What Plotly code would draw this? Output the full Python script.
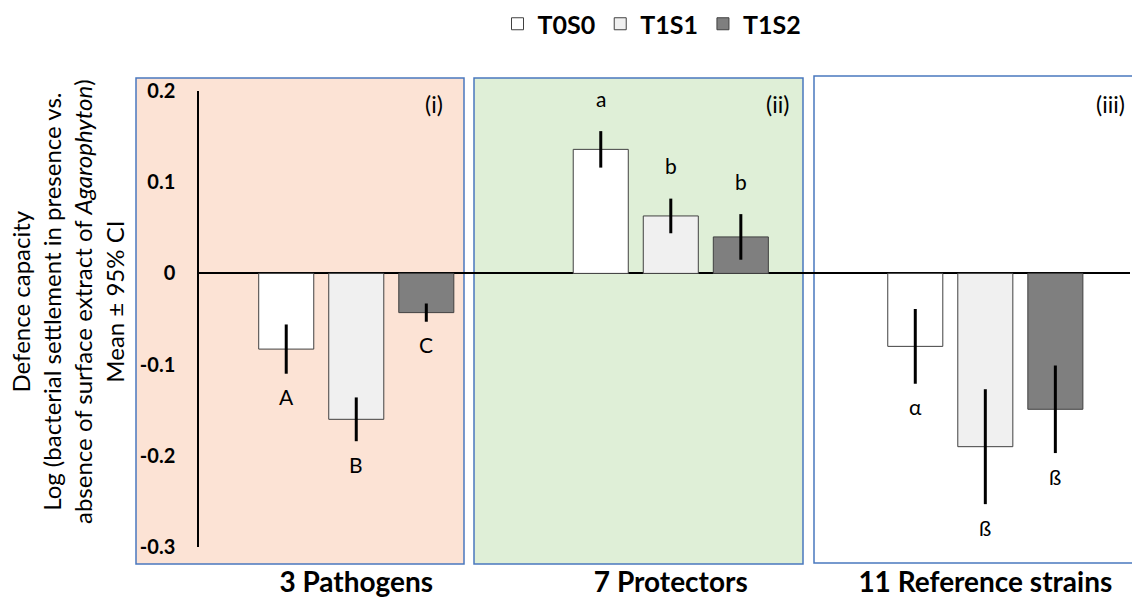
import plotly.graph_objects as go

# ---- data ----
groups = ["3 Pathogens", "7 Protectors", "11 Reference strains"]
treatments = ["T0S0", "T1S1", "T1S2"]
mean_T0S0 = [-0.083, 0.136, -0.080]
mean_T1S1 = [-0.160, 0.063, -0.190]
mean_T1S2 = [-0.043, 0.040, -0.149]
ci_T0S0 = [0.027, 0.020, 0.041]
ci_T1S1 = [0.024, 0.019, 0.063]
ci_T1S2 = [0.010, 0.025, 0.048]
letters_T0S0 = ["A", "a", "α"]
letters_T1S1 = ["B", "b", "ß"]
letters_T1S2 = ["C", "b", "ß"]
panel_labels = ["(i)", "(ii)", "(iii)"]
y_ticks = [-0.3, -0.2, -0.1, 0, 0.1, 0.2]
y_tick_text = ["-0.3", "-0.2", "-0.1", "0", "0.1", "0.2"]

means = [mean_T0S0, mean_T1S1, mean_T1S2]
cis = [ci_T0S0, ci_T1S1, ci_T1S2]
letters = [letters_T0S0, letters_T1S1, letters_T1S2]
colors = ["#FFFFFF", "#F0F0F0", "#7F7F7F"]

FONT = "Lato"
W, H = 1132, 599
L, R, T, B = 199, 2, 91, 52
PW, PH = W - L - R, H - T - B
BARGAP = 0.332
BARGROUPGAP = 0.214


def px(x):
    return (x - L) / PW


def py(y):
    return (H - B - y) / PH


fig = go.Figure()
for t, m, c, col in zip(treatments, means, cis, colors):
    fig.add_trace(go.Bar(
        name=t, x=groups, y=m,
        marker=dict(color=col, line=dict(color="#404040", width=1)),
        error_y=dict(type="data", array=c, visible=True, color="black",
                     thickness=3, width=0),
    ))

# panel backgrounds
panels = [
    (136, 464, 78, 564, "#FCE3D5"),
    (474, 803, 78, 564, "#DFEFD7"),
    (814, 1150, 76, 563, "#FFFFFF"),
]
for x0, x1, y0, y1, fc in panels:
    fig.add_shape(type="rect", xref="paper", yref="paper",
                  x0=px(x0), x1=px(x1), y0=py(y1), y1=py(y0),
                  fillcolor=fc, line=dict(color="#4A78BE", width=1.5),
                  layer="below")

# panel labels
for lab, xc in zip(panel_labels, [434, 777, 1110]):
    fig.add_annotation(text=lab, xref="paper", yref="paper", x=px(xc), y=py(104),
                       xanchor="center", yanchor="middle", showarrow=False,
                       font=dict(family=FONT, size=23, color="black"))

# significance letters
slot = (1 - BARGAP) / 3
for j in range(3):
    for i in range(3):
        m = means[j][i]
        e = cis[j][i]
        yv = m + e if m > 0 else m - e
        fig.add_annotation(text=letters[j][i], x=i + (j - 1) * slot, y=yv,
                           xref="x", yref="y", showarrow=False,
                           xanchor="center", yanchor="middle",
                           yshift=33 if m > 0 else -23,
                           font=dict(family=FONT, size=21, color="black"))

# y axis title
fig.add_annotation(
    text="Defence capacity<br>Log (bacterial settlement in presence vs.<br>"
         "absence of surface extract of <i>Agarophyton</i>)<br>Mean ± 95% CI",
    xref="paper", yref="paper", x=px(67), y=py(302), textangle=-90,
    xanchor="center", yanchor="middle", showarrow=False, align="center",
    font=dict(family=FONT, size=24, color="black"))

fig.update_layout(
    width=W, height=H,
    margin=dict(l=L, r=R, t=T, b=B, autoexpand=False),
    paper_bgcolor="white", plot_bgcolor="rgba(0,0,0,0)",
    barmode="group", bargap=BARGAP, bargroupgap=BARGROUPGAP,
    font=dict(family=FONT, color="black"),
    legend=dict(orientation="h", x=px(652), y=py(24), xanchor="center",
                yanchor="middle", font=dict(family=FONT, size=25, weight="bold"),
                bgcolor="rgba(0,0,0,0)"),
    xaxis=dict(range=[-0.5, 2.46], showgrid=False, showline=False, zeroline=False,
               ticks="", tickfont=dict(family=FONT, size=28, weight="bold"),
               ticklabelstandoff=16),
    yaxis=dict(range=[-0.3, 0.2], tickvals=y_ticks, ticktext=y_tick_text,
               showgrid=False, showline=True, linecolor="black", linewidth=1.5,
               zeroline=True, zerolinecolor="black", zerolinewidth=1.5,
               ticks="", ticklabelstandoff=18,
               tickfont=dict(family=FONT, size=20, weight="bold")),
)

fig.write_html("out.html",
               config={"displayModeBar": False},
               post_script="document.body.style.margin='0px';"
                           "document.body.style.overflow='hidden';")
